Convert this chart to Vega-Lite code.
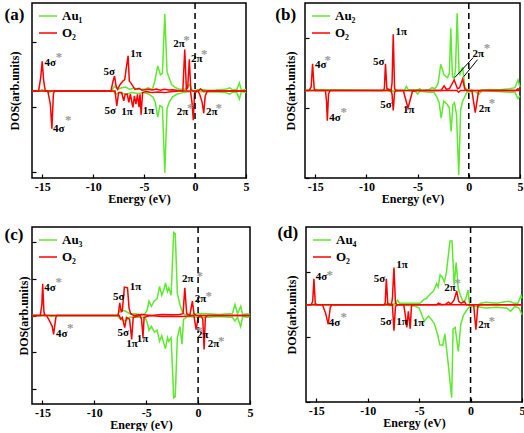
{
"$schema": "https://vega.github.io/schema/vega-lite/v6.json",
"background": "white",
"padding": {"left": 3, "top": 1, "right": 0, "bottom": 0},
"datasets": {
"a": [
{"s":"Au₁","d":"u","x":-16,"y":0},{"s":"Au₁","d":"u","x":-15.2,"y":0},{"s":"Au₁","d":"u","x":-15.0,"y":0.05},{"s":"Au₁","d":"u","x":-14.8,"y":0},{"s":"Au₁","d":"u","x":-8.2,"y":0},{"s":"Au₁","d":"u","x":-7.9,"y":0.15},{"s":"Au₁","d":"u","x":-7.6,"y":0.05},{"s":"Au₁","d":"u","x":-7.2,"y":0.1},{"s":"Au₁","d":"u","x":-6.8,"y":0.12},{"s":"Au₁","d":"u","x":-6.4,"y":0.05},{"s":"Au₁","d":"u","x":-6.0,"y":0.1},{"s":"Au₁","d":"u","x":-5.6,"y":0.05},{"s":"Au₁","d":"u","x":-5.0,"y":0.05},{"s":"Au₁","d":"u","x":-4.6,"y":0.1},{"s":"Au₁","d":"u","x":-4.2,"y":0.05},{"s":"Au₁","d":"u","x":-3.95,"y":0.3},{"s":"Au₁","d":"u","x":-3.66,"y":0.77},{"s":"Au₁","d":"u","x":-3.4,"y":0.5},{"s":"Au₁","d":"u","x":-3.2,"y":0.55},{"s":"Au₁","d":"u","x":-2.97,"y":2.36},{"s":"Au₁","d":"u","x":-2.75,"y":0.6},{"s":"Au₁","d":"u","x":-2.6,"y":0.45},{"s":"Au₁","d":"u","x":-2.3,"y":0.2},{"s":"Au₁","d":"u","x":-1.9,"y":0.1},{"s":"Au₁","d":"u","x":-1.5,"y":0.05},{"s":"Au₁","d":"u","x":-1.0,"y":0.05},{"s":"Au₁","d":"u","x":-0.5,"y":0.2},{"s":"Au₁","d":"u","x":-0.3,"y":0},{"s":"Au₁","d":"u","x":0.5,"y":0.05},{"s":"Au₁","d":"u","x":1.2,"y":0.02},{"s":"Au₁","d":"u","x":2.0,"y":0.03},{"s":"Au₁","d":"u","x":3.0,"y":0.05},{"s":"Au₁","d":"u","x":3.4,"y":0.1},{"s":"Au₁","d":"u","x":3.7,"y":0.03},{"s":"Au₁","d":"u","x":4.1,"y":0.05},{"s":"Au₁","d":"u","x":4.35,"y":0.25},{"s":"Au₁","d":"u","x":4.55,"y":0.02},{"s":"Au₁","d":"u","x":5,"y":0.05},
{"s":"Au₁","d":"d","x":-16,"y":0},{"s":"Au₁","d":"d","x":-14.5,"y":0},{"s":"Au₁","d":"d","x":-14.3,"y":-0.05},{"s":"Au₁","d":"d","x":-14.1,"y":0},{"s":"Au₁","d":"d","x":-8.0,"y":0},{"s":"Au₁","d":"d","x":-7.8,"y":-0.1},{"s":"Au₁","d":"d","x":-7.4,"y":-0.05},{"s":"Au₁","d":"d","x":-6.8,"y":-0.1},{"s":"Au₁","d":"d","x":-6.2,"y":-0.05},{"s":"Au₁","d":"d","x":-5.6,"y":-0.08},{"s":"Au₁","d":"d","x":-5.0,"y":-0.05},{"s":"Au₁","d":"d","x":-4.5,"y":-0.1},{"s":"Au₁","d":"d","x":-4.1,"y":-0.2},{"s":"Au₁","d":"d","x":-3.9,"y":-0.35},{"s":"Au₁","d":"d","x":-3.66,"y":-0.8},{"s":"Au₁","d":"d","x":-3.45,"y":-0.45},{"s":"Au₁","d":"d","x":-3.2,"y":-0.5},{"s":"Au₁","d":"d","x":-2.97,"y":-2.51},{"s":"Au₁","d":"d","x":-2.75,"y":-0.55},{"s":"Au₁","d":"d","x":-2.55,"y":-0.35},{"s":"Au₁","d":"d","x":-2.2,"y":-0.18},{"s":"Au₁","d":"d","x":-1.8,"y":-0.1},{"s":"Au₁","d":"d","x":-1.2,"y":-0.05},{"s":"Au₁","d":"d","x":-0.6,"y":-0.02},{"s":"Au₁","d":"d","x":0,"y":0},{"s":"Au₁","d":"d","x":1.0,"y":-0.03},{"s":"Au₁","d":"d","x":2.0,"y":-0.02},{"s":"Au₁","d":"d","x":3.0,"y":-0.05},{"s":"Au₁","d":"d","x":3.4,"y":-0.1},{"s":"Au₁","d":"d","x":3.7,"y":-0.03},{"s":"Au₁","d":"d","x":4.1,"y":-0.05},{"s":"Au₁","d":"d","x":4.35,"y":-0.25},{"s":"Au₁","d":"d","x":4.55,"y":-0.02},{"s":"Au₁","d":"d","x":5,"y":-0.05},
{"s":"O₂","d":"u","x":-16,"y":0},{"s":"O₂","d":"u","x":-15.35,"y":0},{"s":"O₂","d":"u","x":-15.15,"y":0.4},{"s":"O₂","d":"u","x":-15.0,"y":0.91},{"s":"O₂","d":"u","x":-14.85,"y":0.3},{"s":"O₂","d":"u","x":-14.7,"y":0},{"s":"O₂","d":"u","x":-8.25,"y":0},{"s":"O₂","d":"u","x":-8.05,"y":0.3},{"s":"O₂","d":"u","x":-7.9,"y":0.46},{"s":"O₂","d":"u","x":-7.75,"y":0.15},{"s":"O₂","d":"u","x":-7.6,"y":0.05},{"s":"O₂","d":"u","x":-7.35,"y":0.2},{"s":"O₂","d":"u","x":-7.1,"y":0.3},{"s":"O₂","d":"u","x":-6.9,"y":0.35},{"s":"O₂","d":"u","x":-6.75,"y":0.7},{"s":"O₂","d":"u","x":-6.57,"y":1.08},{"s":"O₂","d":"u","x":-6.45,"y":0.3},{"s":"O₂","d":"u","x":-6.3,"y":0.25},{"s":"O₂","d":"u","x":-6.1,"y":0.15},{"s":"O₂","d":"u","x":-5.9,"y":0.05},{"s":"O₂","d":"u","x":-5.5,"y":0.08},{"s":"O₂","d":"u","x":-5.2,"y":0.02},{"s":"O₂","d":"u","x":-4.6,"y":0.05},{"s":"O₂","d":"u","x":-4.2,"y":0.03},{"s":"O₂","d":"u","x":-3.8,"y":0.06},{"s":"O₂","d":"u","x":-3.4,"y":0.02},{"s":"O₂","d":"u","x":-3.0,"y":0.05},{"s":"O₂","d":"u","x":-2.6,"y":0.03},{"s":"O₂","d":"u","x":-2.2,"y":0.04},{"s":"O₂","d":"u","x":-1.8,"y":0.02},{"s":"O₂","d":"u","x":-1.2,"y":0},{"s":"O₂","d":"u","x":-1.01,"y":1.27},{"s":"O₂","d":"u","x":-0.85,"y":0.05},{"s":"O₂","d":"u","x":-0.72,"y":0.1},{"s":"O₂","d":"u","x":-0.56,"y":0.97},{"s":"O₂","d":"u","x":-0.42,"y":0.05},{"s":"O₂","d":"u","x":-0.2,"y":0},{"s":"O₂","d":"u","x":0.3,"y":0},{"s":"O₂","d":"u","x":0.55,"y":0.06},{"s":"O₂","d":"u","x":0.8,"y":0},{"s":"O₂","d":"u","x":5,"y":0},
{"s":"O₂","d":"d","x":-16,"y":0},{"s":"O₂","d":"d","x":-14.45,"y":0},{"s":"O₂","d":"d","x":-14.2,"y":-0.4},{"s":"O₂","d":"d","x":-14.05,"y":-1.16},{"s":"O₂","d":"d","x":-13.9,"y":-0.1},{"s":"O₂","d":"d","x":-13.8,"y":0},{"s":"O₂","d":"d","x":-7.85,"y":0},{"s":"O₂","d":"d","x":-7.68,"y":-0.46},{"s":"O₂","d":"d","x":-7.5,"y":-0.05},{"s":"O₂","d":"d","x":-7.2,"y":-0.05},{"s":"O₂","d":"d","x":-7.0,"y":-0.3},{"s":"O₂","d":"d","x":-6.85,"y":-0.1},{"s":"O₂","d":"d","x":-6.65,"y":-0.1},{"s":"O₂","d":"d","x":-6.5,"y":-0.35},{"s":"O₂","d":"d","x":-6.35,"y":-0.1},{"s":"O₂","d":"d","x":-6.1,"y":-0.5},{"s":"O₂","d":"d","x":-5.95,"y":-0.15},{"s":"O₂","d":"d","x":-5.8,"y":-0.4},{"s":"O₂","d":"d","x":-5.65,"y":-0.1},{"s":"O₂","d":"d","x":-5.5,"y":-0.5},{"s":"O₂","d":"d","x":-5.4,"y":-0.1},{"s":"O₂","d":"d","x":-5.29,"y":-0.73},{"s":"O₂","d":"d","x":-5.15,"y":-0.05},{"s":"O₂","d":"d","x":-4.8,"y":-0.02},{"s":"O₂","d":"d","x":-4.2,"y":-0.05},{"s":"O₂","d":"d","x":-3.6,"y":-0.03},{"s":"O₂","d":"d","x":-3.0,"y":-0.05},{"s":"O₂","d":"d","x":-2.4,"y":-0.02},{"s":"O₂","d":"d","x":-1.6,"y":0},{"s":"O₂","d":"d","x":-0.45,"y":0},{"s":"O₂","d":"d","x":-0.3,"y":-0.35},{"s":"O₂","d":"d","x":-0.17,"y":-0.9},{"s":"O₂","d":"d","x":-0.05,"y":-0.05},{"s":"O₂","d":"d","x":0.3,"y":0},{"s":"O₂","d":"d","x":0.45,"y":-0.1},{"s":"O₂","d":"d","x":0.7,"y":-0.35},{"s":"O₂","d":"d","x":0.85,"y":-0.68},{"s":"O₂","d":"d","x":1.0,"y":-0.15},{"s":"O₂","d":"d","x":1.2,"y":0},{"s":"O₂","d":"d","x":5,"y":0}
],
"aT": [
{"x":-14.77,"y":0.87,"t":"4σ"},{"x":-13.36,"y":1.03,"t":"*"},
{"x":-13.95,"y":-1.18,"t":"4σ"},{"x":-12.45,"y":-0.9,"t":"*"},
{"x":-8.99,"y":0.58,"t":"5σ"},{"x":-6.37,"y":1.15,"t":"1π"},
{"x":-8.89,"y":-0.6,"t":"5σ"},{"x":-7.25,"y":-0.65,"t":"1π"},{"x":-5.13,"y":-0.6,"t":"1π"},
{"x":-2.13,"y":1.44,"t":"2π"},{"x":-0.85,"y":1.56,"t":"*"},
{"x":-0.39,"y":0.97,"t":"2π"},{"x":0.91,"y":1.13,"t":"*"},
{"x":-1.79,"y":-0.65,"t":"2π"},{"x":-0.46,"y":-0.52,"t":"*"},
{"x":1.08,"y":-0.65,"t":"2π"},{"x":2.33,"y":-0.52,"t":"*"}
],
"b": [
{"s":"Au₂","d":"u","x":-16,"y":0},{"s":"Au₂","d":"u","x":-15.1,"y":0},{"s":"Au₂","d":"u","x":-15.0,"y":0.03},{"s":"Au₂","d":"u","x":-8.2,"y":0},{"s":"Au₂","d":"u","x":-7.9,"y":0.05},{"s":"Au₂","d":"u","x":-7.5,"y":0},{"s":"Au₂","d":"u","x":-6.3,"y":0},{"s":"Au₂","d":"u","x":-6.1,"y":0.12},{"s":"Au₂","d":"u","x":-5.9,"y":0.02},{"s":"Au₂","d":"u","x":-5.0,"y":0.02},{"s":"Au₂","d":"u","x":-4.8,"y":0.05},{"s":"Au₂","d":"u","x":-4.6,"y":0},{"s":"Au₂","d":"u","x":-3.9,"y":0.02},{"s":"Au₂","d":"u","x":-3.6,"y":0.08},{"s":"Au₂","d":"u","x":-3.3,"y":0.05},{"s":"Au₂","d":"u","x":-3.0,"y":0.2},{"s":"Au₂","d":"u","x":-2.74,"y":0.75},{"s":"Au₂","d":"u","x":-2.41,"y":0.44},{"s":"Au₂","d":"u","x":-2.08,"y":0.37},{"s":"Au₂","d":"u","x":-1.9,"y":0.5},{"s":"Au₂","d":"u","x":-1.76,"y":1.78},{"s":"Au₂","d":"u","x":-1.6,"y":0.4},{"s":"Au₂","d":"u","x":-1.45,"y":0.33},{"s":"Au₂","d":"u","x":-1.3,"y":0.6},{"s":"Au₂","d":"u","x":-1.14,"y":2.21},{"s":"Au₂","d":"u","x":-0.95,"y":0.5},{"s":"Au₂","d":"u","x":-0.87,"y":0.46},{"s":"Au₂","d":"u","x":-0.6,"y":0.67},{"s":"Au₂","d":"u","x":-0.38,"y":0.08},{"s":"Au₂","d":"u","x":-0.05,"y":0},{"s":"Au₂","d":"u","x":1.0,"y":0},{"s":"Au₂","d":"u","x":2.0,"y":0.03},{"s":"Au₂","d":"u","x":3.0,"y":0.02},{"s":"Au₂","d":"u","x":4.0,"y":0.05},{"s":"Au₂","d":"u","x":4.5,"y":0.08},{"s":"Au₂","d":"u","x":4.8,"y":0.3},{"s":"Au₂","d":"u","x":5,"y":0.1},
{"s":"Au₂","d":"d","x":-16,"y":0},{"s":"Au₂","d":"d","x":-13.7,"y":0},{"s":"Au₂","d":"d","x":-13.6,"y":-0.03},{"s":"Au₂","d":"d","x":-13.4,"y":0},{"s":"Au₂","d":"d","x":-8.0,"y":0},{"s":"Au₂","d":"d","x":-7.6,"y":-0.03},{"s":"Au₂","d":"d","x":-6.0,"y":0},{"s":"Au₂","d":"d","x":-5.2,"y":-0.03},{"s":"Au₂","d":"d","x":-5.0,"y":-0.1},{"s":"Au₂","d":"d","x":-4.8,"y":-0.02},{"s":"Au₂","d":"d","x":-3.8,"y":-0.05},{"s":"Au₂","d":"d","x":-3.4,"y":-0.05},{"s":"Au₂","d":"d","x":-3.1,"y":-0.2},{"s":"Au₂","d":"d","x":-2.9,"y":-0.35},{"s":"Au₂","d":"d","x":-2.7,"y":-0.79},{"s":"Au₂","d":"d","x":-2.45,"y":-0.3},{"s":"Au₂","d":"d","x":-2.1,"y":-0.4},{"s":"Au₂","d":"d","x":-1.9,"y":-0.5},{"s":"Au₂","d":"d","x":-1.73,"y":-1.17},{"s":"Au₂","d":"d","x":-1.55,"y":-0.4},{"s":"Au₂","d":"d","x":-1.4,"y":-0.35},{"s":"Au₂","d":"d","x":-1.2,"y":-0.7},{"s":"Au₂","d":"d","x":-0.98,"y":-2.41},{"s":"Au₂","d":"d","x":-0.8,"y":-0.55},{"s":"Au₂","d":"d","x":-0.6,"y":-0.3},{"s":"Au₂","d":"d","x":-0.43,"y":-0.2},{"s":"Au₂","d":"d","x":-0.2,"y":-0.05},{"s":"Au₂","d":"d","x":0.5,"y":-0.02},{"s":"Au₂","d":"d","x":1.0,"y":-0.1},{"s":"Au₂","d":"d","x":1.3,"y":0},{"s":"Au₂","d":"d","x":2.5,"y":-0.02},{"s":"Au₂","d":"d","x":4.0,"y":-0.05},{"s":"Au₂","d":"d","x":4.5,"y":-0.05},{"s":"Au₂","d":"d","x":4.8,"y":-0.23},{"s":"Au₂","d":"d","x":5,"y":-0.15},
{"s":"O₂","d":"u","x":-16,"y":0},{"s":"O₂","d":"u","x":-15.6,"y":0},{"s":"O₂","d":"u","x":-15.4,"y":0.1},{"s":"O₂","d":"u","x":-15.26,"y":0.76},{"s":"O₂","d":"u","x":-15.1,"y":0.05},{"s":"O₂","d":"u","x":-15.0,"y":0},{"s":"O₂","d":"u","x":-8.4,"y":0},{"s":"O₂","d":"u","x":-8.25,"y":0.05},{"s":"O₂","d":"u","x":-8.14,"y":0.76},{"s":"O₂","d":"u","x":-8.0,"y":0.05},{"s":"O₂","d":"u","x":-7.6,"y":0},{"s":"O₂","d":"u","x":-7.5,"y":0.2},{"s":"O₂","d":"u","x":-7.38,"y":1.61},{"s":"O₂","d":"u","x":-7.25,"y":0.05},{"s":"O₂","d":"u","x":-7.1,"y":0},{"s":"O₂","d":"u","x":-2.7,"y":0},{"s":"O₂","d":"u","x":-2.41,"y":0.13},{"s":"O₂","d":"u","x":-2.2,"y":0.04},{"s":"O₂","d":"u","x":-1.9,"y":0.05},{"s":"O₂","d":"u","x":-1.43,"y":0.3},{"s":"O₂","d":"u","x":-1.1,"y":0.05},{"s":"O₂","d":"u","x":-0.9,"y":0.08},{"s":"O₂","d":"u","x":-0.6,"y":0.33},{"s":"O₂","d":"u","x":-0.4,"y":0.05},{"s":"O₂","d":"u","x":-0.2,"y":0},{"s":"O₂","d":"u","x":4.6,"y":0},{"s":"O₂","d":"u","x":4.8,"y":0.05},{"s":"O₂","d":"u","x":5,"y":0},
{"s":"O₂","d":"d","x":-16,"y":0},{"s":"O₂","d":"d","x":-14.0,"y":0},{"s":"O₂","d":"d","x":-13.9,"y":-0.3},{"s":"O₂","d":"d","x":-13.82,"y":-0.86},{"s":"O₂","d":"d","x":-13.7,"y":-0.1},{"s":"O₂","d":"d","x":-13.55,"y":0},{"s":"O₂","d":"d","x":-7.6,"y":0},{"s":"O₂","d":"d","x":-7.5,"y":-0.1},{"s":"O₂","d":"d","x":-7.38,"y":-0.57},{"s":"O₂","d":"d","x":-7.25,"y":-0.05},{"s":"O₂","d":"d","x":-7.1,"y":0},{"s":"O₂","d":"d","x":-6.4,"y":0},{"s":"O₂","d":"d","x":-5.94,"y":-0.5},{"s":"O₂","d":"d","x":-5.5,"y":-0.02},{"s":"O₂","d":"d","x":-5.0,"y":0},{"s":"O₂","d":"d","x":-1.2,"y":0},{"s":"O₂","d":"d","x":-1.0,"y":-0.05},{"s":"O₂","d":"d","x":-0.8,"y":0},{"s":"O₂","d":"d","x":0.3,"y":0},{"s":"O₂","d":"d","x":0.63,"y":-0.63},{"s":"O₂","d":"d","x":0.95,"y":-0.02},{"s":"O₂","d":"d","x":1.2,"y":0},{"s":"O₂","d":"d","x":5,"y":0}
],
"bT": [
{"x":-15.03,"y":0.73,"t":"4σ"},{"x":-13.78,"y":0.87,"t":"*"},
{"x":-13.62,"y":-0.79,"t":"4σ"},{"x":-12.22,"y":-0.6,"t":"*"},
{"x":-9.37,"y":0.81,"t":"5σ"},{"x":-7.16,"y":1.67,"t":"1π"},
{"x":-8.66,"y":-0.41,"t":"5σ"},{"x":-6.43,"y":-0.57,"t":"1π"},
{"x":0.36,"y":1.05,"t":"2π"},{"x":1.77,"y":1.21,"t":"*"},
{"x":0.98,"y":-0.52,"t":"2π"},{"x":2.26,"y":-0.36,"t":"*"}
],
"bA": [
{"x":0.43,"y":0.94,"x2":-1.37,"y2":0.37},{"x":0.85,"y":0.88,"x2":-0.49,"y2":0.4}
],
"c": [
{"s":"Au₃","d":"u","x":-16,"y":0},{"s":"Au₃","d":"u","x":-15.1,"y":0},{"s":"Au₃","d":"u","x":-14.9,"y":0.03},{"s":"Au₃","d":"u","x":-14.6,"y":0},{"s":"Au₃","d":"u","x":-7.8,"y":0},{"s":"Au₃","d":"u","x":-7.5,"y":0.15},{"s":"Au₃","d":"u","x":-7.0,"y":0.12},{"s":"Au₃","d":"u","x":-6.6,"y":0.05},{"s":"Au₃","d":"u","x":-6.0,"y":0.05},{"s":"Au₃","d":"u","x":-5.5,"y":0.02},{"s":"Au₃","d":"u","x":-5.1,"y":0.05},{"s":"Au₃","d":"u","x":-4.9,"y":0.15},{"s":"Au₃","d":"u","x":-4.73,"y":0.39},{"s":"Au₃","d":"u","x":-4.5,"y":0.25},{"s":"Au₃","d":"u","x":-4.2,"y":0.4},{"s":"Au₃","d":"u","x":-3.95,"y":0.45},{"s":"Au₃","d":"u","x":-3.71,"y":0.79},{"s":"Au₃","d":"u","x":-3.5,"y":0.55},{"s":"Au₃","d":"u","x":-3.3,"y":0.7},{"s":"Au₃","d":"u","x":-3.14,"y":0.88},{"s":"Au₃","d":"u","x":-2.95,"y":0.65},{"s":"Au₃","d":"u","x":-2.82,"y":0.75},{"s":"Au₃","d":"u","x":-2.6,"y":0.55},{"s":"Au₃","d":"u","x":-2.35,"y":2.25},{"s":"Au₃","d":"u","x":-2.2,"y":2.22},{"s":"Au₃","d":"u","x":-2.0,"y":0.6},{"s":"Au₃","d":"u","x":-1.75,"y":0.3},{"s":"Au₃","d":"u","x":-1.5,"y":0.08},{"s":"Au₃","d":"u","x":-1.3,"y":0.03},{"s":"Au₃","d":"u","x":-0.8,"y":0.02},{"s":"Au₃","d":"u","x":0,"y":0.05},{"s":"Au₃","d":"u","x":1.0,"y":0.05},{"s":"Au₃","d":"u","x":2.0,"y":0.03},{"s":"Au₃","d":"u","x":3.0,"y":0.05},{"s":"Au₃","d":"u","x":3.3,"y":0.05},{"s":"Au₃","d":"u","x":3.55,"y":0.3},{"s":"Au₃","d":"u","x":3.8,"y":0.05},{"s":"Au₃","d":"u","x":4.1,"y":0.25},{"s":"Au₃","d":"u","x":4.3,"y":0.02},{"s":"Au₃","d":"u","x":4.7,"y":0.05},{"s":"Au₃","d":"u","x":5,"y":0.03},
{"s":"Au₃","d":"d","x":-16,"y":0},{"s":"Au₃","d":"d","x":-14.3,"y":0},{"s":"Au₃","d":"d","x":-14.1,"y":-0.03},{"s":"Au₃","d":"d","x":-13.8,"y":0},{"s":"Au₃","d":"d","x":-7.8,"y":0},{"s":"Au₃","d":"d","x":-7.5,"y":-0.1},{"s":"Au₃","d":"d","x":-7.0,"y":-0.15},{"s":"Au₃","d":"d","x":-6.6,"y":-0.05},{"s":"Au₃","d":"d","x":-6.0,"y":-0.05},{"s":"Au₃","d":"d","x":-5.1,"y":-0.05},{"s":"Au₃","d":"d","x":-4.9,"y":-0.2},{"s":"Au₃","d":"d","x":-4.73,"y":-0.4},{"s":"Au₃","d":"d","x":-4.5,"y":-0.3},{"s":"Au₃","d":"d","x":-4.2,"y":-0.45},{"s":"Au₃","d":"d","x":-3.95,"y":-0.4},{"s":"Au₃","d":"d","x":-3.71,"y":-0.7},{"s":"Au₃","d":"d","x":-3.5,"y":-0.55},{"s":"Au₃","d":"d","x":-3.3,"y":-0.75},{"s":"Au₃","d":"d","x":-3.14,"y":-0.9},{"s":"Au₃","d":"d","x":-2.95,"y":-0.6},{"s":"Au₃","d":"d","x":-2.82,"y":-0.7},{"s":"Au₃","d":"d","x":-2.6,"y":-0.6},{"s":"Au₃","d":"d","x":-2.35,"y":-2.23},{"s":"Au₃","d":"d","x":-2.2,"y":-2.2},{"s":"Au₃","d":"d","x":-2.0,"y":-0.6},{"s":"Au₃","d":"d","x":-1.75,"y":-0.3},{"s":"Au₃","d":"d","x":-1.55,"y":-0.78},{"s":"Au₃","d":"d","x":-1.4,"y":-0.1},{"s":"Au₃","d":"d","x":-1.0,"y":-0.03},{"s":"Au₃","d":"d","x":0,"y":-0.05},{"s":"Au₃","d":"d","x":1.0,"y":-0.05},{"s":"Au₃","d":"d","x":2.0,"y":-0.03},{"s":"Au₃","d":"d","x":3.0,"y":-0.05},{"s":"Au₃","d":"d","x":3.3,"y":-0.05},{"s":"Au₃","d":"d","x":3.55,"y":-0.15},{"s":"Au₃","d":"d","x":3.8,"y":-0.05},{"s":"Au₃","d":"d","x":4.1,"y":-0.3},{"s":"Au₃","d":"d","x":4.3,"y":-0.02},{"s":"Au₃","d":"d","x":4.7,"y":-0.05},{"s":"Au₃","d":"d","x":5,"y":-0.02},
{"s":"O₂","d":"u","x":-16,"y":0},{"s":"O₂","d":"u","x":-15.2,"y":0},{"s":"O₂","d":"u","x":-15.05,"y":0.3},{"s":"O₂","d":"u","x":-14.97,"y":0.86},{"s":"O₂","d":"u","x":-14.85,"y":0.1},{"s":"O₂","d":"u","x":-14.75,"y":0},{"s":"O₂","d":"u","x":-7.7,"y":0},{"s":"O₂","d":"u","x":-7.55,"y":0.34},{"s":"O₂","d":"u","x":-7.4,"y":0.1},{"s":"O₂","d":"u","x":-7.3,"y":0.12},{"s":"O₂","d":"u","x":-7.1,"y":0.77},{"s":"O₂","d":"u","x":-6.8,"y":0.75},{"s":"O₂","d":"u","x":-6.65,"y":0.2},{"s":"O₂","d":"u","x":-6.5,"y":0.05},{"s":"O₂","d":"u","x":-6.2,"y":0},{"s":"O₂","d":"u","x":-5.5,"y":0.03},{"s":"O₂","d":"u","x":-4.5,"y":0},{"s":"O₂","d":"u","x":-3.5,"y":0.03},{"s":"O₂","d":"u","x":-2.5,"y":0.02},{"s":"O₂","d":"u","x":-1.8,"y":0.03},{"s":"O₂","d":"u","x":-1.45,"y":0.05},{"s":"O₂","d":"u","x":-1.28,"y":0.75},{"s":"O₂","d":"u","x":-1.1,"y":0.05},{"s":"O₂","d":"u","x":-0.8,"y":0},{"s":"O₂","d":"u","x":-0.55,"y":0.39},{"s":"O₂","d":"u","x":-0.4,"y":0.05},{"s":"O₂","d":"u","x":-0.2,"y":0},{"s":"O₂","d":"u","x":5,"y":0},
{"s":"O₂","d":"d","x":-16,"y":0},{"s":"O₂","d":"d","x":-14.6,"y":0},{"s":"O₂","d":"d","x":-14.3,"y":-0.15},{"s":"O₂","d":"d","x":-14.05,"y":-0.3},{"s":"O₂","d":"d","x":-13.92,"y":-0.51},{"s":"O₂","d":"d","x":-13.7,"y":-0.05},{"s":"O₂","d":"d","x":-13.6,"y":0},{"s":"O₂","d":"d","x":-7.6,"y":0},{"s":"O₂","d":"d","x":-7.45,"y":-0.1},{"s":"O₂","d":"d","x":-7.3,"y":-0.05},{"s":"O₂","d":"d","x":-7.07,"y":-0.33},{"s":"O₂","d":"d","x":-6.9,"y":-0.05},{"s":"O₂","d":"d","x":-6.6,"y":-0.1},{"s":"O₂","d":"d","x":-6.4,"y":-0.65},{"s":"O₂","d":"d","x":-6.25,"y":-0.05},{"s":"O₂","d":"d","x":-5.6,"y":0},{"s":"O₂","d":"d","x":-5.45,"y":-0.1},{"s":"O₂","d":"d","x":-5.31,"y":-0.58},{"s":"O₂","d":"d","x":-5.2,"y":-0.05},{"s":"O₂","d":"d","x":-4.6,"y":0},{"s":"O₂","d":"d","x":-3.5,"y":-0.03},{"s":"O₂","d":"d","x":-2.5,"y":-0.02},{"s":"O₂","d":"d","x":-1.5,"y":-0.03},{"s":"O₂","d":"d","x":-0.4,"y":0},{"s":"O₂","d":"d","x":-0.19,"y":-0.38},{"s":"O₂","d":"d","x":0,"y":-0.05},{"s":"O₂","d":"d","x":0.25,"y":0},{"s":"O₂","d":"d","x":0.45,"y":-0.1},{"s":"O₂","d":"d","x":0.58,"y":-0.92},{"s":"O₂","d":"d","x":0.7,"y":-0.05},{"s":"O₂","d":"d","x":0.9,"y":0},{"s":"O₂","d":"d","x":5,"y":0}
],
"cT": [
{"x":-14.81,"y":0.75,"t":"4σ"},{"x":-13.43,"y":0.92,"t":"*"},
{"x":-13.69,"y":-0.51,"t":"4σ"},{"x":-12.31,"y":-0.34,"t":"*"},
{"x":-8.19,"y":0.5,"t":"5σ"},{"x":-6.59,"y":0.77,"t":"1π"},
{"x":-7.77,"y":-0.47,"t":"5σ"},{"x":-6.91,"y":-0.78,"t":"1π"},{"x":-5.92,"y":-0.65,"t":"1π"},
{"x":-1.54,"y":1.0,"t":"2π"},{"x":0.17,"y":1.06,"t":"*"},
{"x":-0.32,"y":0.45,"t":"2π"},{"x":1.03,"y":0.54,"t":"*"},
{"x":-0.1,"y":-0.54,"t":"2π"},{"x":0.13,"y":-0.42,"t":"*"},
{"x":0.93,"y":-0.78,"t":"2π"},{"x":2.24,"y":-0.68,"t":"*"}
],
"d": [
{"s":"Au₄","d":"u","x":-16,"y":0},{"s":"Au₄","d":"u","x":-15.3,"y":0},{"s":"Au₄","d":"u","x":-15.1,"y":0.03},{"s":"Au₄","d":"u","x":-14.8,"y":0},{"s":"Au₄","d":"u","x":-8.3,"y":0},{"s":"Au₄","d":"u","x":-8.1,"y":0.05},{"s":"Au₄","d":"u","x":-7.8,"y":0.02},{"s":"Au₄","d":"u","x":-7.3,"y":0.03},{"s":"Au₄","d":"u","x":-7.1,"y":0.14},{"s":"Au₄","d":"u","x":-6.9,"y":0.05},{"s":"Au₄","d":"u","x":-6.2,"y":0.05},{"s":"Au₄","d":"u","x":-5.5,"y":0.05},{"s":"Au₄","d":"u","x":-4.9,"y":0.05},{"s":"Au₄","d":"u","x":-4.6,"y":0.15},{"s":"Au₄","d":"u","x":-4.3,"y":0.2},{"s":"Au₄","d":"u","x":-3.9,"y":0.34},{"s":"Au₄","d":"u","x":-3.6,"y":0.42},{"s":"Au₄","d":"u","x":-3.3,"y":0.65},{"s":"Au₄","d":"u","x":-3.15,"y":0.55},{"s":"Au₄","d":"u","x":-2.96,"y":0.92},{"s":"Au₄","d":"u","x":-2.75,"y":0.85},{"s":"Au₄","d":"u","x":-2.55,"y":0.7},{"s":"Au₄","d":"u","x":-2.35,"y":1.0},{"s":"Au₄","d":"u","x":-2.0,"y":1.97},{"s":"Au₄","d":"u","x":-1.8,"y":1.97},{"s":"Au₄","d":"u","x":-1.6,"y":0.6},{"s":"Au₄","d":"u","x":-1.4,"y":1.3},{"s":"Au₄","d":"u","x":-1.2,"y":0.5},{"s":"Au₄","d":"u","x":-1.0,"y":0.3},{"s":"Au₄","d":"u","x":-0.75,"y":0.1},{"s":"Au₄","d":"u","x":-0.5,"y":0.15},{"s":"Au₄","d":"u","x":-0.25,"y":0.45},{"s":"Au₄","d":"u","x":-0.1,"y":0},{"s":"Au₄","d":"u","x":0.5,"y":-0.05},{"s":"Au₄","d":"u","x":1.0,"y":0.05},{"s":"Au₄","d":"u","x":1.5,"y":0.08},{"s":"Au₄","d":"u","x":2.5,"y":0.05},{"s":"Au₄","d":"u","x":3.5,"y":0.1},{"s":"Au₄","d":"u","x":3.8,"y":0.1},{"s":"Au₄","d":"u","x":4.2,"y":0.05},{"s":"Au₄","d":"u","x":4.6,"y":0.05},{"s":"Au₄","d":"u","x":4.9,"y":0.28},{"s":"Au₄","d":"u","x":5,"y":0.2},
{"s":"Au₄","d":"d","x":-16,"y":0},{"s":"Au₄","d":"d","x":-13.9,"y":0},{"s":"Au₄","d":"d","x":-13.7,"y":-0.03},{"s":"Au₄","d":"d","x":-13.4,"y":0},{"s":"Au₄","d":"d","x":-8.2,"y":0},{"s":"Au₄","d":"d","x":-7.9,"y":-0.03},{"s":"Au₄","d":"d","x":-7.3,"y":0},{"s":"Au₄","d":"d","x":-5.5,"y":-0.03},{"s":"Au₄","d":"d","x":-5.0,"y":-0.1},{"s":"Au₄","d":"d","x":-4.5,"y":-0.51},{"s":"Au₄","d":"d","x":-4.1,"y":-0.35},{"s":"Au₄","d":"d","x":-3.8,"y":-0.45},{"s":"Au₄","d":"d","x":-3.5,"y":-0.6},{"s":"Au₄","d":"d","x":-3.2,"y":-0.92},{"s":"Au₄","d":"d","x":-3.0,"y":-1.23},{"s":"Au₄","d":"d","x":-2.7,"y":-1.25},{"s":"Au₄","d":"d","x":-2.5,"y":-0.9},{"s":"Au₄","d":"d","x":-2.2,"y":-1.74},{"s":"Au₄","d":"d","x":-1.84,"y":-2.87},{"s":"Au₄","d":"d","x":-1.7,"y":-0.75},{"s":"Au₄","d":"d","x":-1.5,"y":-0.7},{"s":"Au₄","d":"d","x":-1.19,"y":-1.44},{"s":"Au₄","d":"d","x":-0.95,"y":-0.6},{"s":"Au₄","d":"d","x":-0.7,"y":-0.33},{"s":"Au₄","d":"d","x":-0.45,"y":-0.2},{"s":"Au₄","d":"d","x":-0.1,"y":-0.05},{"s":"Au₄","d":"d","x":0.5,"y":-0.05},{"s":"Au₄","d":"d","x":1.5,"y":-0.1},{"s":"Au₄","d":"d","x":2.5,"y":-0.08},{"s":"Au₄","d":"d","x":3.5,"y":-0.1},{"s":"Au₄","d":"d","x":3.9,"y":-0.2},{"s":"Au₄","d":"d","x":4.3,"y":-0.05},{"s":"Au₄","d":"d","x":4.7,"y":-0.1},{"s":"Au₄","d":"d","x":5,"y":-0.3},
{"s":"O₂","d":"u","x":-16,"y":0},{"s":"O₂","d":"u","x":-15.5,"y":0},{"s":"O₂","d":"u","x":-15.35,"y":0.1},{"s":"O₂","d":"u","x":-15.23,"y":0.8},{"s":"O₂","d":"u","x":-15.1,"y":0.05},{"s":"O₂","d":"u","x":-15.0,"y":0},{"s":"O₂","d":"u","x":-8.4,"y":0},{"s":"O₂","d":"u","x":-8.3,"y":0.05},{"s":"O₂","d":"u","x":-8.19,"y":0.8},{"s":"O₂","d":"u","x":-8.05,"y":0.03},{"s":"O₂","d":"u","x":-7.7,"y":0},{"s":"O₂","d":"u","x":-7.6,"y":0.2},{"s":"O₂","d":"u","x":-7.45,"y":1.15},{"s":"O₂","d":"u","x":-7.3,"y":0.05},{"s":"O₂","d":"u","x":-7.1,"y":0},{"s":"O₂","d":"u","x":-3.3,"y":0},{"s":"O₂","d":"u","x":-3.13,"y":0.05},{"s":"O₂","d":"u","x":-2.8,"y":0},{"s":"O₂","d":"u","x":-2.4,"y":0.02},{"s":"O₂","d":"u","x":-2.16,"y":0.08},{"s":"O₂","d":"u","x":-1.9,"y":0.02},{"s":"O₂","d":"u","x":-1.6,"y":0.15},{"s":"O₂","d":"u","x":-1.35,"y":0.43},{"s":"O₂","d":"u","x":-1.15,"y":0.1},{"s":"O₂","d":"u","x":-0.9,"y":0.05},{"s":"O₂","d":"u","x":-0.6,"y":0.1},{"s":"O₂","d":"u","x":-0.4,"y":0},{"s":"O₂","d":"u","x":5,"y":0},
{"s":"O₂","d":"d","x":-16,"y":0},{"s":"O₂","d":"d","x":-14.4,"y":0},{"s":"O₂","d":"d","x":-14.1,"y":-0.25},{"s":"O₂","d":"d","x":-13.84,"y":-0.6},{"s":"O₂","d":"d","x":-13.65,"y":-0.1},{"s":"O₂","d":"d","x":-13.5,"y":0},{"s":"O₂","d":"d","x":-7.6,"y":0},{"s":"O₂","d":"d","x":-7.45,"y":-0.8},{"s":"O₂","d":"d","x":-7.3,"y":-0.05},{"s":"O₂","d":"d","x":-7.1,"y":0},{"s":"O₂","d":"d","x":-6.5,"y":0},{"s":"O₂","d":"d","x":-6.35,"y":-0.3},{"s":"O₂","d":"d","x":-6.2,"y":-0.7},{"s":"O₂","d":"d","x":-6.05,"y":-0.2},{"s":"O₂","d":"d","x":-5.87,"y":-0.74},{"s":"O₂","d":"d","x":-5.75,"y":-0.05},{"s":"O₂","d":"d","x":-5.6,"y":0},{"s":"O₂","d":"d","x":0.3,"y":0},{"s":"O₂","d":"d","x":0.52,"y":-0.77},{"s":"O₂","d":"d","x":0.7,"y":-0.05},{"s":"O₂","d":"d","x":0.9,"y":0},{"s":"O₂","d":"d","x":5,"y":0}
],
"dT": [
{"x":-15.06,"y":0.87,"t":"4σ"},{"x":-13.68,"y":0.92,"t":"*"},
{"x":-13.78,"y":-0.56,"t":"4σ"},{"x":-12.32,"y":-0.38,"t":"*"},
{"x":-9.42,"y":0.8,"t":"5σ"},{"x":-7.22,"y":1.23,"t":"1π"},
{"x":-8.77,"y":-0.54,"t":"5σ"},{"x":-7.22,"y":-0.54,"t":"1π"},{"x":-5.61,"y":-0.56,"t":"1π"},
{"x":-2.55,"y":0.53,"t":"2π"},{"x":-1.26,"y":0.67,"t":"*"},
{"x":0.75,"y":-0.62,"t":"2π"},{"x":2.07,"y":-0.51,"t":"*"}
]
},
"vconcat": [
{"hconcat": [
{"width": 214, "height": 175,
 "layer": [
  {"data": {"name": "a"}, "transform": [{"filter": "datum.s !== 'O₂'"}], "mark": {"type": "line", "strokeWidth": 1.5},
   "encoding": {
    "x": {"field": "x", "type": "quantitative", "scale": {"domain": [-16, 5], "nice": false, "zero": false}, "axis": {"title": "Energy (eV)"}},
    "y": {"field": "y", "type": "quantitative", "scale": {"domain": [-2.67, 2.7], "nice": false, "zero": false}, "axis": {"title": "DOS(arb.units)", "titlePadding": 10, "labels": false, "values": [-2.5,-2,-1.5,-1,-0.5,0,0.5,1,1.5,2,2.5]}},
    "color": {"field": "s", "type": "nominal", "scale": {"domain": ["Au₁", "O₂"], "range": ["#5ee830", "#ff0000"]}, "legend": {"title": null}},
    "detail": {"field": "d"}}},
  {"data": {"name": "a"}, "transform": [{"filter": "datum.s === 'O₂'"}], "mark": {"type": "line", "strokeWidth": 1.5},
   "encoding": {"x": {"field": "x", "type": "quantitative"}, "y": {"field": "y", "type": "quantitative"}, "color": {"field": "s", "type": "nominal"}, "detail": {"field": "d"}}},
  {"data": {"values": [{}]}, "mark": {"type": "rule", "strokeDash": [6, 4], "strokeWidth": 1.5, "color": "black"}, "encoding": {"x": {"datum": 0}}},
  {"data": {"name": "aT"}, "transform": [{"filter": "datum.t !== '*'"}], "mark": {"type": "text", "align": "left", "baseline": "middle", "font": "Liberation Serif", "fontWeight": "bold", "fontSize": 11, "color": "black"},
   "encoding": {"x": {"field": "x", "type": "quantitative"}, "y": {"field": "y", "type": "quantitative"}, "text": {"field": "t"}}},
  {"data": {"name": "aT"}, "transform": [{"filter": "datum.t === '*'"}], "mark": {"type": "text", "align": "center", "baseline": "middle", "font": "Liberation Serif", "fontWeight": "bold", "fontSize": 13, "color": "#9a9a9a"},
   "encoding": {"x": {"field": "x", "type": "quantitative"}, "y": {"field": "y", "type": "quantitative"}, "text": {"field": "t"}}},
  {"data": {"values": [{"x": -18.7, "y": 2.34, "t": "(a)"}]}, "mark": {"type": "text", "align": "left", "baseline": "middle", "font": "Liberation Serif", "fontWeight": "bold", "fontSize": 17, "color": "black"},
   "encoding": {"x": {"field": "x", "type": "quantitative"}, "y": {"field": "y", "type": "quantitative"}, "text": {"field": "t"}}}
 ]},
{"width": 215, "height": 175,
 "layer": [
  {"data": {"name": "b"}, "transform": [{"filter": "datum.s !== 'O₂'"}], "mark": {"type": "line", "strokeWidth": 1.5},
   "encoding": {
    "x": {"field": "x", "type": "quantitative", "scale": {"domain": [-16, 5], "nice": false, "zero": false}, "axis": {"title": "Energy (eV)"}},
    "y": {"field": "y", "type": "quantitative", "scale": {"domain": [-2.5, 2.5], "nice": false, "zero": false}, "axis": {"title": "DOS(arb.units)", "titlePadding": 7, "labels": false, "values": [-2.5,-2,-1.5,-1,-0.5,0,0.5,1,1.5,2,2.5]}},
    "color": {"field": "s", "type": "nominal", "scale": {"domain": ["Au₂", "O₂"], "range": ["#5ee830", "#ff0000"]}, "legend": {"title": null}},
    "detail": {"field": "d"}}},
  {"data": {"name": "b"}, "transform": [{"filter": "datum.s === 'O₂'"}], "mark": {"type": "line", "strokeWidth": 1.5},
   "encoding": {"x": {"field": "x", "type": "quantitative"}, "y": {"field": "y", "type": "quantitative"}, "color": {"field": "s", "type": "nominal"}, "detail": {"field": "d"}}},
  {"data": {"values": [{}]}, "mark": {"type": "rule", "strokeDash": [6, 4], "strokeWidth": 1.5, "color": "black"}, "encoding": {"x": {"datum": 0}}},
  {"data": {"name": "bA"}, "mark": {"type": "rule", "strokeWidth": 1, "color": "black"},
   "encoding": {"x": {"field": "x", "type": "quantitative"}, "y": {"field": "y", "type": "quantitative"}, "x2": {"field": "x2"}, "y2": {"field": "y2"}}},
  {"data": {"name": "bT"}, "transform": [{"filter": "datum.t !== '*'"}], "mark": {"type": "text", "align": "left", "baseline": "middle", "font": "Liberation Serif", "fontWeight": "bold", "fontSize": 11, "color": "black"},
   "encoding": {"x": {"field": "x", "type": "quantitative"}, "y": {"field": "y", "type": "quantitative"}, "text": {"field": "t"}}},
  {"data": {"name": "bT"}, "transform": [{"filter": "datum.t === '*'"}], "mark": {"type": "text", "align": "center", "baseline": "middle", "font": "Liberation Serif", "fontWeight": "bold", "fontSize": 13, "color": "#9a9a9a"},
   "encoding": {"x": {"field": "x", "type": "quantitative"}, "y": {"field": "y", "type": "quantitative"}, "text": {"field": "t"}}},
  {"data": {"values": [{"x": -18.9, "y": 2.17, "t": "(b)"}]}, "mark": {"type": "text", "align": "left", "baseline": "middle", "font": "Liberation Serif", "fontWeight": "bold", "fontSize": 17, "color": "black"},
   "encoding": {"x": {"field": "x", "type": "quantitative"}, "y": {"field": "y", "type": "quantitative"}, "text": {"field": "t"}}}
 ]}
], "spacing": 24, "resolve": {"scale": {"color": "independent"}, "legend": {"color": "independent"}}},
{"hconcat": [
{"width": 218, "height": 177,
 "layer": [
  {"data": {"name": "c"}, "transform": [{"filter": "datum.s !== 'O₂'"}], "mark": {"type": "line", "strokeWidth": 1.5},
   "encoding": {
    "x": {"field": "x", "type": "quantitative", "scale": {"domain": [-16, 5], "nice": false, "zero": false}, "axis": {"title": "Energy (eV)"}},
    "y": {"field": "y", "type": "quantitative", "scale": {"domain": [-2.4, 2.4], "nice": false, "zero": false}, "axis": {"title": "DOS(arb.units)", "titlePadding": 1, "labels": false, "values": [-2,-1.5,-1,-0.5,0,0.5,1,1.5,2]}},
    "color": {"field": "s", "type": "nominal", "scale": {"domain": ["Au₃", "O₂"], "range": ["#5ee830", "#ff0000"]}, "legend": {"title": null}},
    "detail": {"field": "d"}}},
  {"data": {"name": "c"}, "transform": [{"filter": "datum.s === 'O₂'"}], "mark": {"type": "line", "strokeWidth": 1.5},
   "encoding": {"x": {"field": "x", "type": "quantitative"}, "y": {"field": "y", "type": "quantitative"}, "color": {"field": "s", "type": "nominal"}, "detail": {"field": "d"}}},
  {"data": {"values": [{}]}, "mark": {"type": "rule", "strokeDash": [6, 4], "strokeWidth": 1.5, "color": "black"}, "encoding": {"x": {"datum": 0}}},
  {"data": {"name": "cT"}, "transform": [{"filter": "datum.t !== '*'"}], "mark": {"type": "text", "align": "left", "baseline": "middle", "font": "Liberation Serif", "fontWeight": "bold", "fontSize": 11, "color": "black"},
   "encoding": {"x": {"field": "x", "type": "quantitative"}, "y": {"field": "y", "type": "quantitative"}, "text": {"field": "t"}}},
  {"data": {"name": "cT"}, "transform": [{"filter": "datum.t === '*'"}], "mark": {"type": "text", "align": "center", "baseline": "middle", "font": "Liberation Serif", "fontWeight": "bold", "fontSize": 13, "color": "#9a9a9a"},
   "encoding": {"x": {"field": "x", "type": "quantitative"}, "y": {"field": "y", "type": "quantitative"}, "text": {"field": "t"}}},
  {"data": {"values": [{"x": -18.65, "y": 2.17, "t": "(c)"}]}, "mark": {"type": "text", "align": "left", "baseline": "middle", "font": "Liberation Serif", "fontWeight": "bold", "fontSize": 17, "color": "black"},
   "encoding": {"x": {"field": "x", "type": "quantitative"}, "y": {"field": "y", "type": "quantitative"}, "text": {"field": "t"}}}
 ]},
{"width": 216, "height": 175,
 "layer": [
  {"data": {"name": "d"}, "transform": [{"filter": "datum.s !== 'O₂'"}], "mark": {"type": "line", "strokeWidth": 1.5},
   "encoding": {
    "x": {"field": "x", "type": "quantitative", "scale": {"domain": [-16, 5], "nice": false, "zero": false}, "axis": {"title": "Energy (eV)"}},
    "y": {"field": "y", "type": "quantitative", "scale": {"domain": [-3, 2.4], "nice": false, "zero": false}, "axis": {"title": "DOS(arb.units)", "titlePadding": 7, "labels": false, "values": [-3,-2.5,-2,-1.5,-1,-0.5,0,0.5,1,1.5,2]}},
    "color": {"field": "s", "type": "nominal", "scale": {"domain": ["Au₄", "O₂"], "range": ["#5ee830", "#ff0000"]}, "legend": {"title": null}},
    "detail": {"field": "d"}}},
  {"data": {"name": "d"}, "transform": [{"filter": "datum.s === 'O₂'"}], "mark": {"type": "line", "strokeWidth": 1.5},
   "encoding": {"x": {"field": "x", "type": "quantitative"}, "y": {"field": "y", "type": "quantitative"}, "color": {"field": "s", "type": "nominal"}, "detail": {"field": "d"}}},
  {"data": {"values": [{}]}, "mark": {"type": "rule", "strokeDash": [6, 4], "strokeWidth": 1.5, "color": "black"}, "encoding": {"x": {"datum": 0}}},
  {"data": {"name": "dT"}, "transform": [{"filter": "datum.t !== '*'"}], "mark": {"type": "text", "align": "left", "baseline": "middle", "font": "Liberation Serif", "fontWeight": "bold", "fontSize": 11, "color": "black"},
   "encoding": {"x": {"field": "x", "type": "quantitative"}, "y": {"field": "y", "type": "quantitative"}, "text": {"field": "t"}}},
  {"data": {"name": "dT"}, "transform": [{"filter": "datum.t === '*'"}], "mark": {"type": "text", "align": "center", "baseline": "middle", "font": "Liberation Serif", "fontWeight": "bold", "fontSize": 13, "color": "#9a9a9a"},
   "encoding": {"x": {"field": "x", "type": "quantitative"}, "y": {"field": "y", "type": "quantitative"}, "text": {"field": "t"}}},
  {"data": {"values": [{"x": -18.78, "y": 2.2, "t": "(d)"}]}, "mark": {"type": "text", "align": "left", "baseline": "middle", "font": "Liberation Serif", "fontWeight": "bold", "fontSize": 17, "color": "black"},
   "encoding": {"x": {"field": "x", "type": "quantitative"}, "y": {"field": "y", "type": "quantitative"}, "text": {"field": "t"}}}
 ]}
], "spacing": 22, "resolve": {"scale": {"color": "independent"}, "legend": {"color": "independent"}}}
],
"spacing": 18,
"resolve": {"scale": {"color": "independent"}, "legend": {"color": "independent"}},
"config": {
 "font": "Liberation Serif",
 "view": {"stroke": "black", "strokeWidth": 1.5},
 "axis": {"grid": false, "domain": false, "tickColor": "black", "tickSize": -4, "tickWidth": 1.2, "labelFont": "Liberation Serif", "labelFontWeight": "bold", "labelFontSize": 12, "labelColor": "black", "titleFont": "Liberation Serif", "titleFontWeight": "bold", "titleFontSize": 12, "titleColor": "black"},
 "axisX": {"values": [-15,-12.5,-10,-7.5,-5,-2.5,0,2.5,5], "labelExpr": "datum.value % 5 === 0 ? '' + datum.value : ''", "labelFlush": false, "labelOverlap": false, "labelPadding": 7, "titlePadding": 1},
 "legend": {"orient": "top-left", "offset": 3, "padding": 0, "symbolType": "stroke", "symbolSize": 324, "symbolStrokeWidth": 1.5, "symbolOffset": 3, "labelFont": "Liberation Serif", "labelFontSize": 13, "labelFontWeight": "bold", "labelColor": "black", "rowPadding": 0, "labelOffset": 4}
}
}
